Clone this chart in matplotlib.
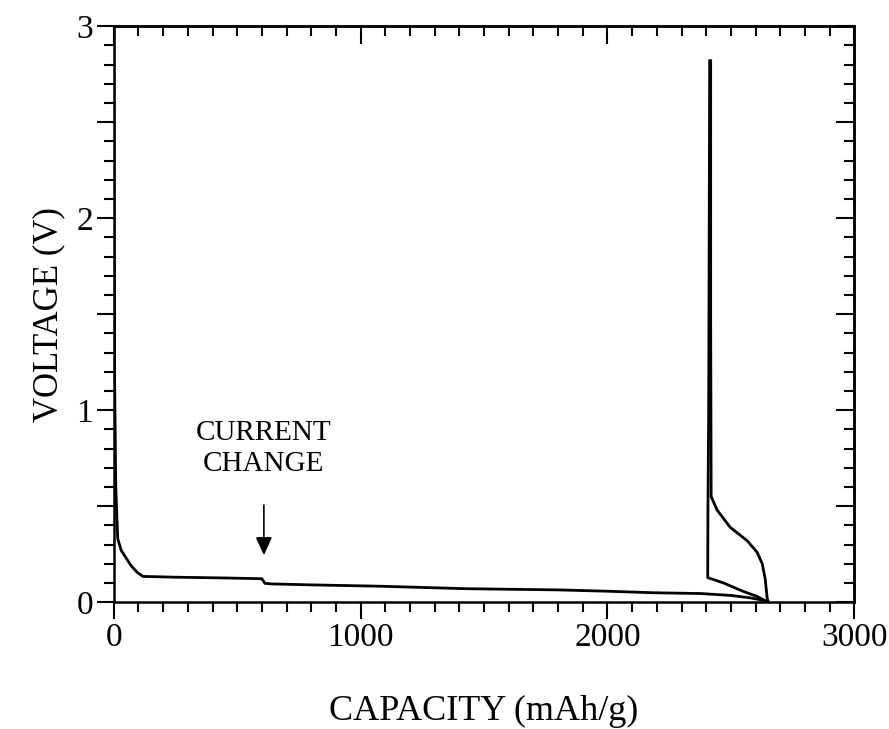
import numpy as np
import matplotlib
matplotlib.use('Agg')
import matplotlib.pyplot as plt
from matplotlib.ticker import MultipleLocator, FuncFormatter

# Значення
cap_dis1 = [0, 3, 8, 16, 30, 45, 70, 95, 118, 250, 450, 600, 612, 640, 800, 1078,
            1430, 1795, 2000, 2185, 2375, 2500, 2580, 2630, 2650]
v_dis1 = [3.0, 1.2, 0.6, 0.33, 0.27, 0.24, 0.19, 0.155, 0.134, 0.13, 0.126, 0.122, 0.098,
          0.095, 0.09, 0.083, 0.07, 0.064, 0.057, 0.049, 0.045, 0.035, 0.022, 0.01, 0.004]

cap_chg = [2650, 2647, 2639, 2627, 2606, 2566, 2497, 2444, 2420, 2418, 2418]
v_chg = [0.004, 0.02, 0.12, 0.2, 0.26, 0.32, 0.39, 0.48, 0.55, 1.5, 2.82]

cap_dis2 = [2414, 2410, 2407, 2406, 2470, 2550, 2606, 2640]
v_dis2 = [2.82, 1.0, 0.5, 0.128, 0.1, 0.056, 0.03, 0.006]

arrow_cap = 608
arrow_v = (0.23, 0.52)

plt.rcParams['font.family'] = ['Liberation Serif', 'DejaVu Serif']

fig = plt.figure(figsize=(8.89, 7.29), dpi=100)
ax = fig.add_axes([0.128, 0.174, 0.833, 0.790])

lw = 2.0
ax.plot(cap_dis1, v_dis1, color='black', lw=lw)
ax.plot(cap_chg, v_chg, color='black', lw=lw)
ax.plot(cap_dis2, v_dis2, color='black', lw=lw)

ax.annotate('', xy=(arrow_cap, arrow_v[0]), xytext=(arrow_cap, arrow_v[1]),
            arrowprops=dict(arrowstyle='-|>,head_length=1.1,head_width=0.5',
                            color='black', lw=1.2))
ax.text(arrow_cap, 0.80, 'CURRENT\nCHANGE', ha='center', va='center',
        fontsize=21, linespacing=1.25)

ax.set_xlim(0, 3000)
ax.set_ylim(0, 3)

for s in ax.spines.values():
    s.set_linewidth(1.8)

ax.xaxis.set_major_locator(MultipleLocator(1000))
ax.xaxis.set_minor_locator(MultipleLocator(100))
ax.yaxis.set_major_locator(MultipleLocator(0.5))
ax.yaxis.set_minor_locator(MultipleLocator(0.1))
ax.yaxis.set_major_formatter(FuncFormatter(
    lambda v, p: f'{int(round(v))}' if abs(v - round(v)) < 1e-6 else ''))

ax.tick_params(which='both', direction='out', width=1.5, labelsize=24,
               top=False, right=False)
ax.tick_params(which='major', length=12, pad=3)
ax.tick_params(which='minor', length=7)

# верхня і права осі з рисками всередину
top = ax.secondary_xaxis('top')
top.xaxis.set_major_locator(MultipleLocator(1000))
top.xaxis.set_minor_locator(MultipleLocator(100))
top.tick_params(which='both', direction='in', width=1.5, labeltop=False)
top.tick_params(which='major', length=13)
top.tick_params(which='minor', length=7)
top.spines['top'].set_linewidth(1.8)

right = ax.secondary_yaxis('right')
right.yaxis.set_major_locator(MultipleLocator(0.5))
right.yaxis.set_minor_locator(MultipleLocator(0.1))
right.tick_params(which='both', direction='in', width=1.5, labelright=False)
right.tick_params(which='major', length=13)
right.tick_params(which='minor', length=7)
right.spines['right'].set_linewidth(1.8)

ax.set_xlabel('CAPACITY (mAh/g)', fontsize=26, labelpad=30)
ax.set_ylabel('VOLTAGE (V)', fontsize=25, labelpad=8)

fig.savefig('out.png', dpi=100)
